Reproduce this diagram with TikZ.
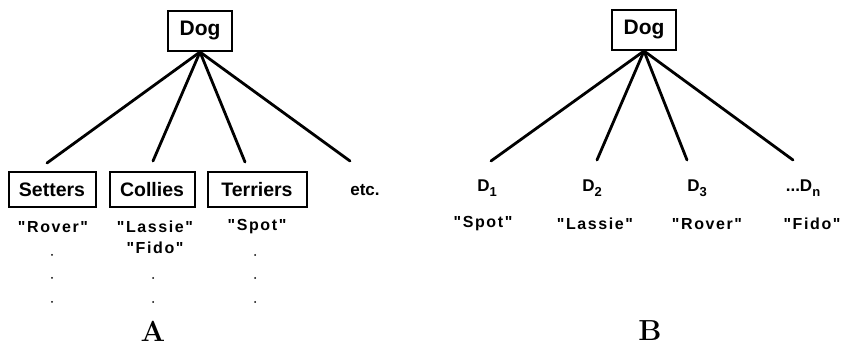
\documentclass[tikz,border=0pt]{standalone}
\usepackage{fontspec}
\newfontfamily\lsb{Liberation Sans Bold}
\newfontfamily\lsbq[LetterSpace=10]{Liberation Sans Bold}
\begin{document}
\begin{tikzpicture}[x=1pt,y=-1pt,
  boxlbl/.style={draw,line width=2pt,inner sep=0pt,font=\lsb\fontsize{19.5}{19.5}\selectfont,minimum height=35pt},
  toplbl/.style={draw,line width=2pt,inner sep=0pt,font=\lsb\fontsize{21}{21}\selectfont,minimum height=40pt,minimum width=64pt},
  qlbl/.style={inner sep=0pt,font=\lsbq\fontsize{16}{16}\selectfont},
  dlbl/.style={inner sep=0pt,font=\lsb\fontsize{17}{17}\selectfont},
  edge/.style={line width=2.8pt,line cap=round},
  dotm/.style={circle,fill,inner sep=0pt,minimum size=2pt},
  panel/.style={inner sep=0pt,font=\fontsize{29}{29}\selectfont\bfseries\addfontfeatures{FakeBold=2}}]
\useasboundingbox (0,0) rectangle (841,347);
% ---------- Panel A ----------
\node[toplbl] (dogA) at (200,31) {Dog};
\node[boxlbl,minimum width=87pt] (setters) at (52,190) {Setters};
\node[boxlbl,minimum width=85pt] (collies) at (152,190) {Collies};
\node[boxlbl,minimum width=99pt] (terriers) at (257,190) {Terriers};
\node[dlbl] (etc) at (365,190) {etc.};
\coordinate (eS) at (47,163);
\coordinate (eC) at (153,161);
\coordinate (eT) at (245,162);
\coordinate (eE) at (350,161);
\foreach \e in {eS,eC,eT,eE} \draw[edge] (dogA.south) -- (\e);
\node[qlbl] (rover) at (53,227) {"Rover"};
\node[qlbl] (lassie) at (155,227) {"Lassie"};
\node[qlbl] (fido) at (155,248) {"Fido"};
\node[qlbl] (spot) at (257,227) {"Spot"};
\node[dotm] (s1) at (52,255) {};
\node[dotm] (s2) at (52,278) {};
\node[dotm] (s3) at (52,302) {};
\node[dotm] (c2) at (153,278) {};
\node[dotm] (c3) at (153,302) {};
\node[dotm] (t1) at (255,255) {};
\node[dotm] (t2) at (255,278) {};
\node[dotm] (t3) at (255,302) {};
\node[panel] (labA) at (153,331) {A};
% ---------- Panel B ----------
\node[toplbl] (dogB) at (644,30) {Dog};
\coordinate (f1) at (491,161);
\coordinate (f2) at (597,160);
\coordinate (f3) at (687,160);
\coordinate (fn) at (793,160);
\foreach \e in {f1,f2,f3,fn} \draw[edge] (dogB.south) -- (\e);
\node[dlbl] (d1) at (487,188) {D\raisebox{-5pt}{\fontsize{13}{13}\selectfont 1}};
\node[dlbl] (d2) at (592,188) {D\raisebox{-5pt}{\fontsize{13}{13}\selectfont 2}};
\node[dlbl] (d3) at (697,188) {D\raisebox{-5pt}{\fontsize{13}{13}\selectfont 3}};
\node[dlbl] (dn) at (803,188) {...D\raisebox{-5pt}{\fontsize{13}{13}\selectfont n}};
\node[qlbl] (bspot) at (483,224) {"Spot"};
\node[qlbl] (blassie) at (595,224) {"Lassie"};
\node[qlbl] (brover) at (707,224) {"Rover"};
\node[qlbl] (bfido) at (812,224) {"Fido"};
\node[panel] (labB) at (650,331) {B};
\end{tikzpicture}
\end{document}
